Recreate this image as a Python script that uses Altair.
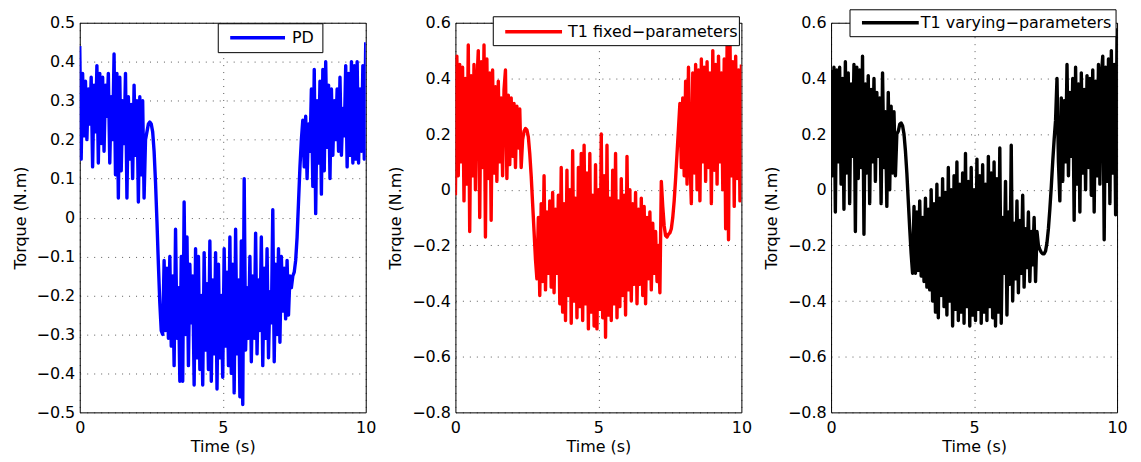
import altair as alt
import pandas as pd

# ---------------- data ----------------
SAMPLE_STEP = 0.05
TIME = [round(SAMPLE_STEP * i, 2) for i in range(201)]  # 0 .. 10 s sampling grid

X_TICKS = [0, 5, 10]
Y_TICKS_PD = [-0.5, -0.4, -0.3, -0.2, -0.1, 0.0, 0.1, 0.2, 0.3, 0.4, 0.5]
Y_TICKS_T1 = [-0.8, -0.6, -0.4, -0.2, 0.0, 0.2, 0.4, 0.6]

LABEL_PD = "PD"
LABEL_FIXED = "T1 fixed\u2212parameters"
LABEL_VARYING = "T1 varying\u2212parameters"

# PD torque
PD_A = [0.44, 0.15, 0.37, 0.21, 0.35, 0.20, 0.33, 0.24, 0.36, 0.13,
        0.34, 0.22, 0.39, 0.14, 0.37, 0.19, 0.36, 0.17, 0.34, 0.26,
        0.37, 0.14, 0.31, 0.20, 0.42, 0.11, 0.37, 0.05, 0.36, 0.12,
        0.30, 0.19, 0.37, 0.05, 0.31, 0.15, 0.29, 0.10, 0.34, 0.16,
        0.30, 0.04, 0.31, 0.11, 0.30, 0.05, 0.20]
PD_B = [0.22, 0.24, 0.245, 0.24, 0.22, 0.17, 0.09, -0.01, -0.12, -0.22, -0.29]
PD_C = [-0.30, -0.11, -0.29, -0.13, -0.31, -0.10, -0.33, -0.15, -0.38, -0.03,
        -0.31, -0.18, -0.42, -0.10, -0.42, 0.04, -0.30, -0.05, -0.38, -0.12,
        -0.27, -0.15, -0.43, -0.08, -0.36, -0.10, -0.39, -0.20, -0.43, -0.09,
        -0.34, -0.17, -0.39, -0.06, -0.42, -0.16, -0.35, -0.09, -0.44, -0.12,
        -0.36, -0.20, -0.41, -0.08, -0.33, -0.14, -0.38, -0.05, -0.40, -0.12,
        -0.45, -0.03, -0.35, -0.16, -0.46, -0.06, -0.48, 0.10, -0.34, -0.18,
        -0.31, -0.10, -0.37, -0.15, -0.31, -0.04, -0.35, -0.16, -0.29, -0.05,
        -0.38, -0.13, -0.31, -0.08, -0.36, -0.19, -0.27, 0.02, -0.37, -0.12,
        -0.30, -0.08, -0.32, -0.10, -0.24, -0.13, -0.26, -0.11, -0.25, -0.15,
        -0.18, -0.15]
PD_D = [-0.14, -0.11, -0.05, 0.04, 0.13, 0.20, 0.25]
PD_E = [0.13, 0.26, 0.10, 0.24, 0.17, 0.33, 0.08, 0.38, 0.01, 0.30,
        0.14, 0.35, 0.06, 0.38, 0.12, 0.40, 0.18, 0.34, 0.10, 0.33,
        0.16, 0.30, 0.20, 0.33, 0.17, 0.36, 0.16, 0.28, 0.21, 0.39,
        0.13, 0.37, 0.16, 0.40, 0.14, 0.39, 0.15, 0.40, 0.14, 0.33,
        0.17, 0.39, 0.15, 0.45]

# T1 fixed-parameters torque
FX_A = [-0.02, 0.48, 0.05, 0.45, 0.10, 0.44, -0.04, 0.40, 0.02, 0.52,
        -0.15, 0.41, 0.05, 0.45, 0.00, 0.38, 0.50, -0.10, 0.46, 0.08,
        0.52, -0.17, 0.47, 0.04, 0.42, -0.11, 0.43, 0.06, 0.37, 0.03,
        0.39, 0.10, 0.33, 0.05, 0.36, 0.43, 0.04, 0.34, 0.09, 0.33,
        0.12, 0.31, 0.08, 0.30, 0.15, 0.29, 0.08]
FX_B = [0.18, 0.21, 0.22, 0.215, 0.19, 0.13, 0.05, -0.05, -0.15, -0.25, -0.32]
FX_C = [-0.10, -0.38, -0.05, -0.33, 0.05, -0.36, -0.08, -0.30, -0.04, -0.35,
        -0.01, -0.37, -0.07, -0.30, -0.02, -0.41, 0.08, -0.44, -0.05, -0.47,
        0.07, -0.38, 0.00, -0.48, 0.14, -0.40, -0.03, -0.46, 0.08, -0.42,
        0.13, -0.47, 0.16, -0.41, 0.06, -0.50, 0.13, -0.44, -0.02, -0.49,
        0.09, -0.50, 0.00, -0.43, 0.20, -0.46, 0.05, -0.53, 0.16, -0.45,
        -0.03, -0.47, 0.07, -0.41, 0.13, -0.46, -0.04, -0.42, 0.04, -0.38,
        -0.02, -0.45, 0.12, -0.36, 0.00, -0.40, -0.05, -0.34, -0.01, -0.41,
        -0.07, -0.34, -0.03, -0.38, -0.06, -0.41, -0.10, -0.32, -0.08, -0.36,
        -0.12, -0.30, -0.15, -0.33, -0.20, -0.37, 0.03, -0.06, -0.13, -0.165,
        -0.17, -0.16]
FX_D = [-0.155, -0.14, -0.10, -0.04, 0.04, 0.13, 0.22]
FX_E = [0.31, 0.08, 0.33, 0.05, 0.39, 0.02, 0.44, 0.12, -0.05, 0.42,
        0.06, 0.45, 0.00, 0.43, -0.04, 0.47, 0.10, 0.44, 0.03, 0.46,
        0.08, 0.42, -0.05, 0.50, 0.07, 0.45, 0.02, 0.48, 0.10, 0.42,
        0.00, 0.47, -0.14, 0.52, -0.18, 0.55, 0.05, 0.46, -0.06, 0.48,
        0.04, 0.43, -0.04, 0.45]

# T1 varying-parameters torque
VR_A = [0.43, 0.05, 0.44, -0.08, 0.43, 0.10, 0.44, 0.02, 0.40, -0.07,
        0.46, 0.06, 0.42, -0.05, 0.38, 0.12, 0.45, -0.15, 0.44, 0.04,
        0.43, 0.08, 0.48, -0.16, 0.38, 0.06, 0.41, -0.05, 0.36, 0.10,
        0.40, 0.03, 0.35, 0.12, 0.33, -0.05, 0.42, 0.08, 0.28, -0.06,
        0.35, 0.00, 0.30, 0.06, 0.28, 0.05, 0.20]
VR_B = [0.21, 0.235, 0.24, 0.23, 0.20, 0.14, 0.06, -0.04, -0.14, -0.23, -0.30]
VR_C = [-0.06, -0.30, -0.08, -0.29, -0.04, -0.31, -0.10, -0.33, -0.03, -0.35,
        -0.07, -0.36, 0.00, -0.40, -0.05, -0.44, 0.02, -0.46, -0.03, -0.38,
        0.04, -0.42, -0.01, -0.45, 0.08, -0.40, 0.00, -0.49, 0.05, -0.43,
        0.10, -0.47, 0.02, -0.44, 0.06, -0.48, 0.13, -0.42, 0.03, -0.49,
        0.08, -0.45, 0.00, -0.47, 0.11, -0.43, 0.05, -0.48, 0.09, -0.44,
        0.02, -0.47, 0.12, -0.42, 0.06, -0.46, 0.10, -0.49, 0.04, -0.44,
        0.15, -0.48, -0.10, -0.30, 0.03, -0.45, -0.08, -0.34, 0.16, -0.40,
        -0.12, -0.32, -0.04, -0.37, -0.11, -0.30, -0.02, -0.35, -0.14, -0.28,
        -0.08, -0.33, -0.15, -0.27, -0.10, -0.33, -0.15, -0.20, -0.215, -0.225,
        -0.23, -0.23]
VR_D = [-0.22, -0.19, -0.14, -0.07, 0.01, 0.10, 0.18]
VR_E = [0.25, 0.40, 0.10, -0.04, 0.33, 0.03, 0.32, 0.10, 0.45, 0.05,
        0.35, 0.12, 0.40, -0.11, 0.44, 0.02, 0.38, -0.08, 0.42, 0.06,
        0.36, 0.00, 0.41, 0.08, 0.40, -0.02, 0.43, -0.08, 0.39, 0.05,
        0.45, 0.02, 0.41, 0.48, -0.18, 0.44, 0.03, 0.47, -0.05, 0.50,
        0.06, 0.45, -0.09, 0.58]

PD_VALUES = PD_A + PD_B + PD_C + PD_D + PD_E
FIXED_VALUES = FX_A + FX_B + FX_C + FX_D + FX_E
VARYING_VALUES = VR_A + VR_B + VR_C + VR_D + VR_E
for _v in (PD_VALUES, FIXED_VALUES, VARYING_VALUES):
    assert len(_v) == len(TIME), len(_v)

FONT = "DejaVu Sans"
W, H = 287, 391
legend_row = alt.Data(values=[{"row": 0}])


def panel(values, color, yticks, label, box, sample, text_pos):
    df = pd.DataFrame({"t": TIME, "v": values})
    line = alt.Chart(df).mark_line(color=color, strokeWidth=3.4, clip=True,
                                   strokeJoin="round").encode(
        x=alt.X("t:Q", scale=alt.Scale(domain=[0, 10], nice=False, zero=False),
                axis=alt.Axis(values=X_TICKS, format="d", title="Time (s)")),
        y=alt.Y("v:Q", scale=alt.Scale(domain=[yticks[0], yticks[-1]], nice=False, zero=False),
                axis=alt.Axis(values=yticks, format=".1~f", title="Torque (N.m)")),
    )
    rect = alt.Chart(legend_row).mark_rect(fill="white", stroke="black", strokeWidth=1).encode(
        x=alt.value(box[0]), x2=alt.value(box[1]), y=alt.value(box[2]), y2=alt.value(box[3]))
    rule = alt.Chart(legend_row).mark_rule(color=color, strokeWidth=3.5).encode(
        x=alt.value(sample[0]), x2=alt.value(sample[1]), y=alt.value(sample[2]))
    text = alt.Chart(legend_row).mark_text(align="left", baseline="middle", fontSize=16,
                                           font=FONT, color="black").encode(
        x=alt.value(text_pos[0]), y=alt.value(text_pos[1]), text=alt.value(label))
    return alt.layer(line, rect, rule, text).properties(width=W, height=H)


p1 = panel(PD_VALUES, "#0000ff", Y_TICKS_PD, LABEL_PD,
           (139, 244, 1, 30), (151, 206, 15), (213, 15))
p2 = panel(FIXED_VALUES, "#ff0000", Y_TICKS_T1, LABEL_FIXED,
           (38, 285, -6, 23), (50, 107, 9), (113, 9))
p3 = panel(VARYING_VALUES, "#000000", Y_TICKS_T1, LABEL_VARYING,
           (19, 286, -13, 14), (31, 88, 0), (90, 0))

chart = (
    alt.hconcat(p1, p2, p3, spacing=90, bounds="flush")
    .properties(padding={"left": 3, "top": 0, "right": 5, "bottom": 2})
    .configure_view(stroke="black", strokeWidth=1)
    .configure_axis(
        labelFont=FONT, titleFont=FONT, labelFontSize=16, titleFontSize=16,
        titleFontWeight="normal", labelColor="black", titleColor="black",
        grid=True, gridColor="black", gridDash=[1, 6], gridOpacity=0.65, gridWidth=1,
        ticks=False, domain=False, labelFlush=False, labelOverlap=False,
    )
    .configure_axisX(labelPadding=7, titlePadding=3)
    .configure_axisY(labelPadding=5, titlePadding=8)
)

chart.save("out.html", embed_options={"renderer": "svg", "actions": False})
